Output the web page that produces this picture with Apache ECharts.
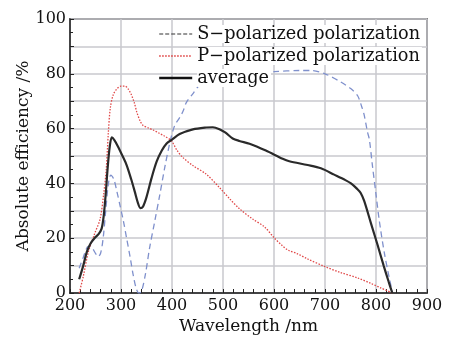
<!DOCTYPE html>
<html>
<head>
<meta charset="utf-8">
<script src="https://cdn.jsdelivr.net/npm/echarts@6/dist/echarts.min.js"></script>
<style>
  html, body { margin: 0; padding: 0; background: #fff; }
  #chart { width: 450px; height: 340px; }
</style>
</head>
<body>
<div id="chart"></div>
<script>
// S-polarized (blue dashed)
var sWave = [218, 226, 236, 243, 250, 255, 260, 265, 270, 275, 280, 286, 292, 298, 305, 311, 318, 324, 330, 335, 340, 348, 356, 366, 376, 386, 396, 405, 415, 422, 428, 440, 454, 480, 510, 550, 600, 650, 673, 700, 731, 751, 764, 772, 777, 783, 787, 793, 800, 806, 816, 826, 832]
var sEff = [9, 13, 17, 16.5, 14.5, 13.3, 14.5, 20, 30, 39.5, 43, 41.5, 37, 32, 26, 20, 13, 6.5, 1.5, 0, 0.5, 7, 16.4, 26, 35.8, 46, 55, 61, 64, 66.5, 69.5, 72.5, 75.8, 78.3, 79.5, 80.5, 80.8, 81.2, 81.2, 80, 77, 74.5, 72, 68, 64.8, 59, 56, 46.5, 36, 27, 15, 5.5, 0.5]

// P-polarized (red dotted)
var pWave = [218, 226, 236, 248, 259, 266, 271, 275, 279, 285, 292, 300, 308, 314, 320, 326, 331, 337, 343, 353, 363, 375, 385, 399, 410, 421, 441, 467, 493, 513, 532, 558, 581, 601, 615, 628, 645, 665, 699, 730, 764, 790, 810, 832]
var pEff = [0, 6, 15, 21.5, 27, 36, 45, 58, 67.5, 72.5, 74.5, 75.5, 75.5, 74.5, 72.5, 69.5, 66, 63, 61.2, 60.3, 59.5, 58.3, 57.3, 55.5, 52, 49.5, 46.5, 43.4, 38.5, 34.4, 30.8, 27, 24.2, 20, 17.5, 15.6, 14.4, 12.5, 9.7, 7.5, 5.5, 3.5, 1.8, 0]

// average (black solid)
var avgWave = [218, 226, 233, 240, 248, 256, 262, 266, 270, 274, 278, 282, 287, 294, 303, 311, 320, 327, 333, 338, 343, 350, 360, 370, 380, 389, 400, 415, 441, 467, 480, 493, 505, 519, 532, 552, 584, 617, 630, 666, 692, 718, 740, 751, 763, 770, 777, 790, 803, 815, 825, 832]
var avgEff = [5, 10, 15, 18, 20, 21.5, 23.5, 28, 36, 46, 53.5, 56.8, 55.8, 53.5, 50, 46.7, 41.5, 37, 33, 31, 31.5, 35, 42, 48, 52, 54.5, 56, 58, 59.7, 60.4, 60.5, 59.8, 58.5, 56.4, 55.5, 54.5, 52, 49, 48.1, 46.7, 45.5, 43.2, 41.2, 40, 38, 36.5, 33.5, 25.5, 17.6, 10, 4, 0]

var seriesNames = ['S\u2212polarized polarization', 'P\u2212polarized polarization', 'average']
var xTitle = 'Wavelength /nm'
var yTitle = 'Absolute efficiency /%'

function pairs(xs, ys) {
    return xs.map(function (x, i) { return [x, ys[i]] })
}

var font = 'DejaVu Serif'
var chart = echarts.init(document.getElementById('chart'))

var option = {
    animation: false,
    backgroundColor: '#fff',
    textStyle: { fontFamily: font, color: '#111' },
    grid: {
        left: 70,
        right: 23,
        top: 19,
        bottom: 44,
        show: true,
        borderColor: '#222',
        borderWidth: 1.5,
        containLabel: false
    },
    legend: {
        orient: 'vertical',
        left: 158,
        top: 25,
        padding: 0,
        itemGap: 4,
        itemWidth: 33,
        itemHeight: 14,
        z: 10,
        itemStyle: { opacity: 0 },
        textStyle: {
            fontFamily: font,
            fontSize: 17.7,
            color: '#111',
            backgroundColor: '#fff',
            padding: [0, 2, 0, 0]
        },
        data: [
            { name: seriesNames[0], lineStyle: { color: '#333', type: [4, 2], width: 1.2 } },
            { name: seriesNames[1], lineStyle: { color: '#d33', type: [1.5, 1.5], width: 1.3 } },
            { name: seriesNames[2], lineStyle: { color: '#111', width: 2.4 } }
        ]
    },
    xAxis: {
        type: 'value',
        min: 200,
        max: 900,
        interval: 100,
        name: xTitle,
        nameLocation: 'middle',
        nameGap: 25,
        nameMoveOverlap: false,
        nameTextStyle: { fontFamily: font, fontSize: 17, color: '#111' },
        axisLine: { show: true, lineStyle: { color: '#222', width: 1.5 } },
        axisTick: { show: true, inside: true, length: 4, lineStyle: { color: '#222' } },
        minorTick: { show: true, splitNumber: 5, length: 4, lineStyle: { color: '#222' } },
        axisLabel: { fontFamily: font, fontSize: 16, color: '#111', margin: 5 },
        splitLine: { show: true, lineStyle: { color: '#c9c9ce', width: 1.5 } }
    },
    yAxis: {
        type: 'value',
        min: 0,
        max: 100,
        interval: 10,
        name: yTitle,
        nameLocation: 'middle',
        nameGap: 38,
        nameMoveOverlap: false,
        nameTextStyle: { fontFamily: font, fontSize: 17, color: '#111' },
        axisLine: { show: true, lineStyle: { color: '#222', width: 1.5 } },
        axisTick: { show: true, inside: true, length: 4, lineStyle: { color: '#222' } },
        minorTick: { show: true, splitNumber: 2, length: 3, lineStyle: { color: '#222' } },
        axisLabel: {
            fontFamily: font,
            fontSize: 16,
            color: '#111',
            margin: 4,
            formatter: function (v) { return v % 20 === 0 ? v : '' }
        },
        splitLine: { show: true, lineStyle: { color: '#c9c9ce', width: 1.5 } }
    },
    series: [
        {
            name: seriesNames[0],
            type: 'line',
            data: pairs(sWave, sEff),
            smooth: 0.3,
            symbol: 'none',
            lineStyle: { color: '#7f90cc', type: [6, 4], width: 1.3 },
            itemStyle: { color: '#7f90cc' },
            z: 3
        },
        {
            name: seriesNames[1],
            type: 'line',
            data: pairs(pWave, pEff),
            smooth: 0.3,
            symbol: 'none',
            lineStyle: { color: '#e04848', type: [1.5, 1.5], width: 1.3 },
            itemStyle: { color: '#e04848' },
            z: 3
        },
        {
            name: seriesNames[2],
            type: 'line',
            data: pairs(avgWave, avgEff),
            smooth: 0.3,
            symbol: 'none',
            lineStyle: { color: '#2a2a2a', width: 2.2 },
            itemStyle: { color: '#2a2a2a' },
            z: 4
        }
    ]
}
chart.setOption(option)
</script>
</body>
</html>
